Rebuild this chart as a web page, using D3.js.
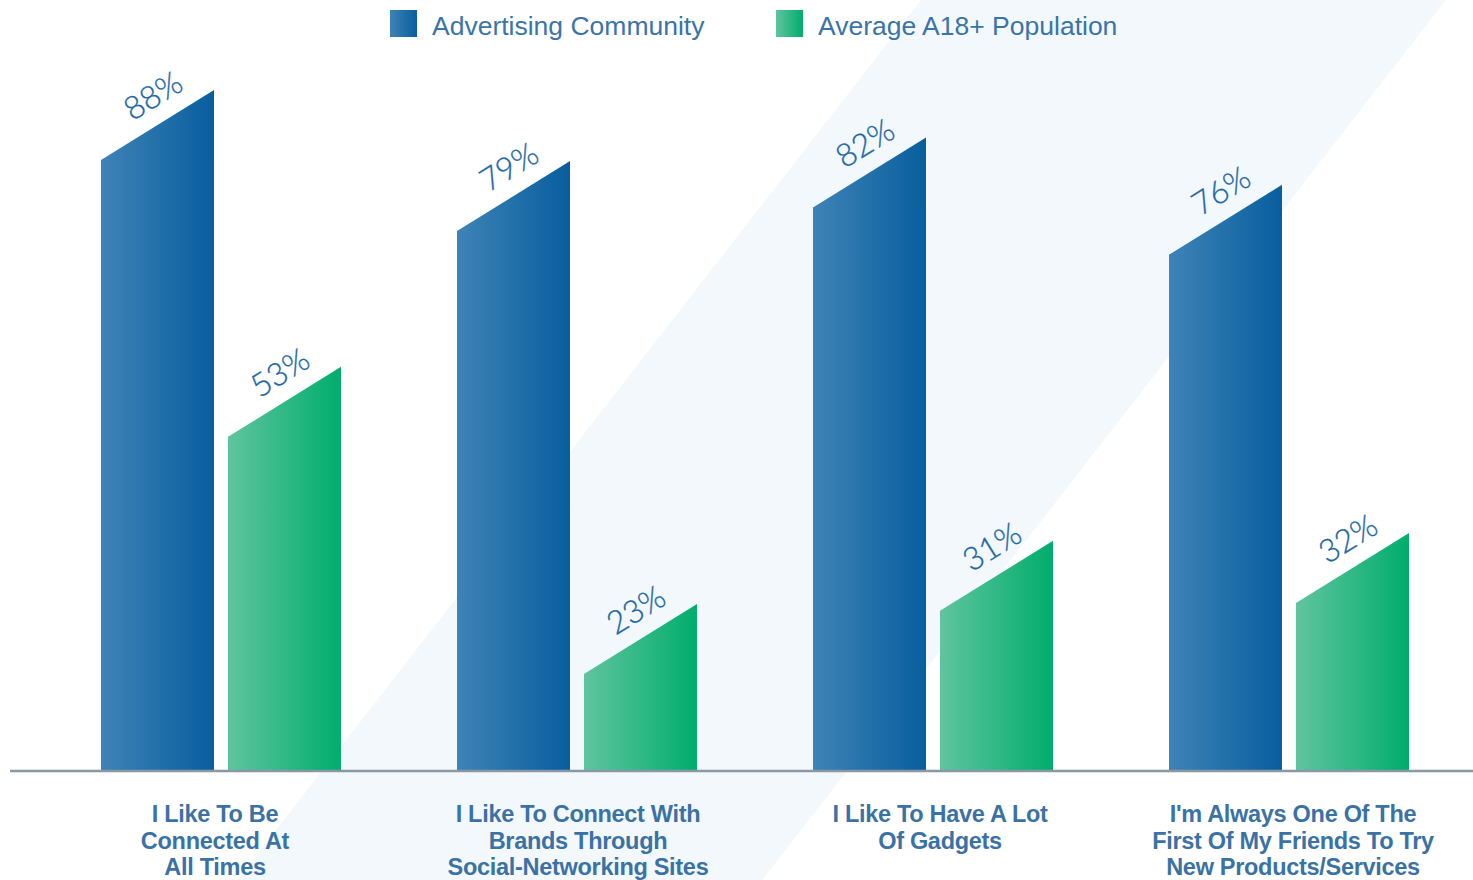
<!DOCTYPE html>
<html>
<head>
<meta charset="utf-8">
<script src="https://cdn.jsdelivr.net/npm/d3@7"></script>
<style>
  body { margin: 0; background: #fff; }
  svg { display: block; }
</style>
</head>
<body>
<div id="main"></div>
<script>
const width = 1473;
const height = 880;

// data
const categories = [
  ["I Like To Be", "Connected At", "All Times"],
  ["I Like To Connect With", "Brands Through", "Social-Networking Sites"],
  ["I Like To Have A Lot", "Of Gadgets"],
  ["I'm Always One Of The", "First Of My Friends To Try", "New Products/Services"]
];
const seriesNames = ["Advertising Community", "Average A18+ Population"];
const adCommunity = [88, 79, 82, 76];
const a18Population = [53, 23, 31, 32];

const baseY = 770;
const slant = 70;
const angle = Math.atan2(slant, 113) * 180 / Math.PI;
// labels under the axis are not exactly centred in the original
const catShift = [-6, 1, 7, 4];

var svg = d3.select("#main").append("svg")
  .attr("width", width)
  .attr("height", height);

const defs = svg.append("defs");
const gradStops = [["#3e83b6", "#085e9e"], ["#60c49f", "#00ad6c"]];
gradStops.forEach((c, i) => {
  const g = defs.append("linearGradient")
    .attr("id", "grad" + i)
    .attr("x1", "0%").attr("x2", "100%")
    .attr("y1", "0%").attr("y2", "0%");
  g.append("stop").attr("offset", "0%").attr("stop-color", c[0]);
  g.append("stop").attr("offset", "100%").attr("stop-color", c[1]);
});

// light diagonal band behind everything
const bandSlope = 0.777;
svg.append("path")
  .attr("d", `M921,0 L1446,0 L${1446 - bandSlope * height},${height} L${921 - bandSlope * height},${height} Z`)
  .attr("fill", "#f3f8fc");

const x0 = d3.scaleBand()
  .domain(d3.range(categories.length))
  .range([43, 1467]);

const x1 = d3.scaleBand()
  .domain([0, 1])
  .range([0, 240])
  .paddingInner(0.11);

const y = d3.scaleLinear()
  .domain([0, 100])
  .range([786, -5]);

const rows = categories.map((c, i) => ({ i: i, values: [adCommunity[i], a18Population[i]] }));

const group = svg.selectAll("g.group")
  .data(rows)
  .join("g")
  .attr("class", "group")
  .attr("transform", d => `translate(${x0(d.i) + (x0.bandwidth() - 240) / 2},0)`);

const bar = group.selectAll("g.bar")
  .data(d => d.values.map((v, s) => ({ v: v, s: s })))
  .join("g")
  .attr("class", "bar");

bar.append("path")
  .attr("fill", d => `url(#grad${d.s})`)
  .attr("d", d => {
    const xl = x1(d.s), xr = x1(d.s) + x1.bandwidth();
    const top = y(d.v);
    return `M${xl},${baseY} L${xl},${top + slant} L${xr},${top} L${xr},${baseY} Z`;
  });

bar.append("text")
  .attr("transform", d => `translate(${x1(d.s)},${y(d.v) + slant}) rotate(${-angle})`)
  .attr("x", 47)
  .attr("y", -16)
  .attr("font-family", "Lato, 'DejaVu Sans', sans-serif")
  .attr("font-weight", 300)
  .attr("font-size", 32)
  .attr("fill", "#1c67a6")
  .attr("stroke", "#1c67a6")
  .attr("stroke-width", 0.3)
  .text(d => d.v + "%");

// baseline
svg.append("line")
  .attr("x1", 10).attr("x2", width)
  .attr("y1", baseY + 1).attr("y2", baseY + 1)
  .attr("stroke", "#8a98a5")
  .attr("stroke-width", 2.5);

// category labels
svg.selectAll("text.cat")
  .data(rows)
  .join("text")
  .attr("class", "cat")
  .attr("text-anchor", "middle")
  .attr("font-family", "'Liberation Sans', Arial, sans-serif")
  .attr("font-weight", "bold")
  .attr("font-size", 23.5)
  .attr("letter-spacing", -0.3)
  .attr("fill", "#3a72a5")
  .each(function(d) {
    const cx = x0(d.i) + x0.bandwidth() / 2 + catShift[d.i];
    d3.select(this).selectAll("tspan")
      .data(categories[d.i])
      .join("tspan")
      .attr("x", cx)
      .attr("y", (t, k) => 822 + k * 26.7)
      .text(t => t);
  });

// legend
const legendX = [390, 776];
const legend = svg.selectAll("g.legend")
  .data(seriesNames)
  .join("g")
  .attr("class", "legend")
  .attr("transform", (d, i) => `translate(${legendX[i]},10)`);

legend.append("rect")
  .attr("width", 27)
  .attr("height", 27)
  .attr("fill", (d, i) => `url(#grad${i})`);

legend.append("text")
  .attr("x", 42)
  .attr("y", 25)
  .attr("font-family", "'Liberation Sans', Arial, sans-serif")
  .attr("font-size", 26.5)
  .attr("letter-spacing", 0)
  .attr("fill", "#3a74a8")
  .text(d => d);
</script>
</body>
</html>
